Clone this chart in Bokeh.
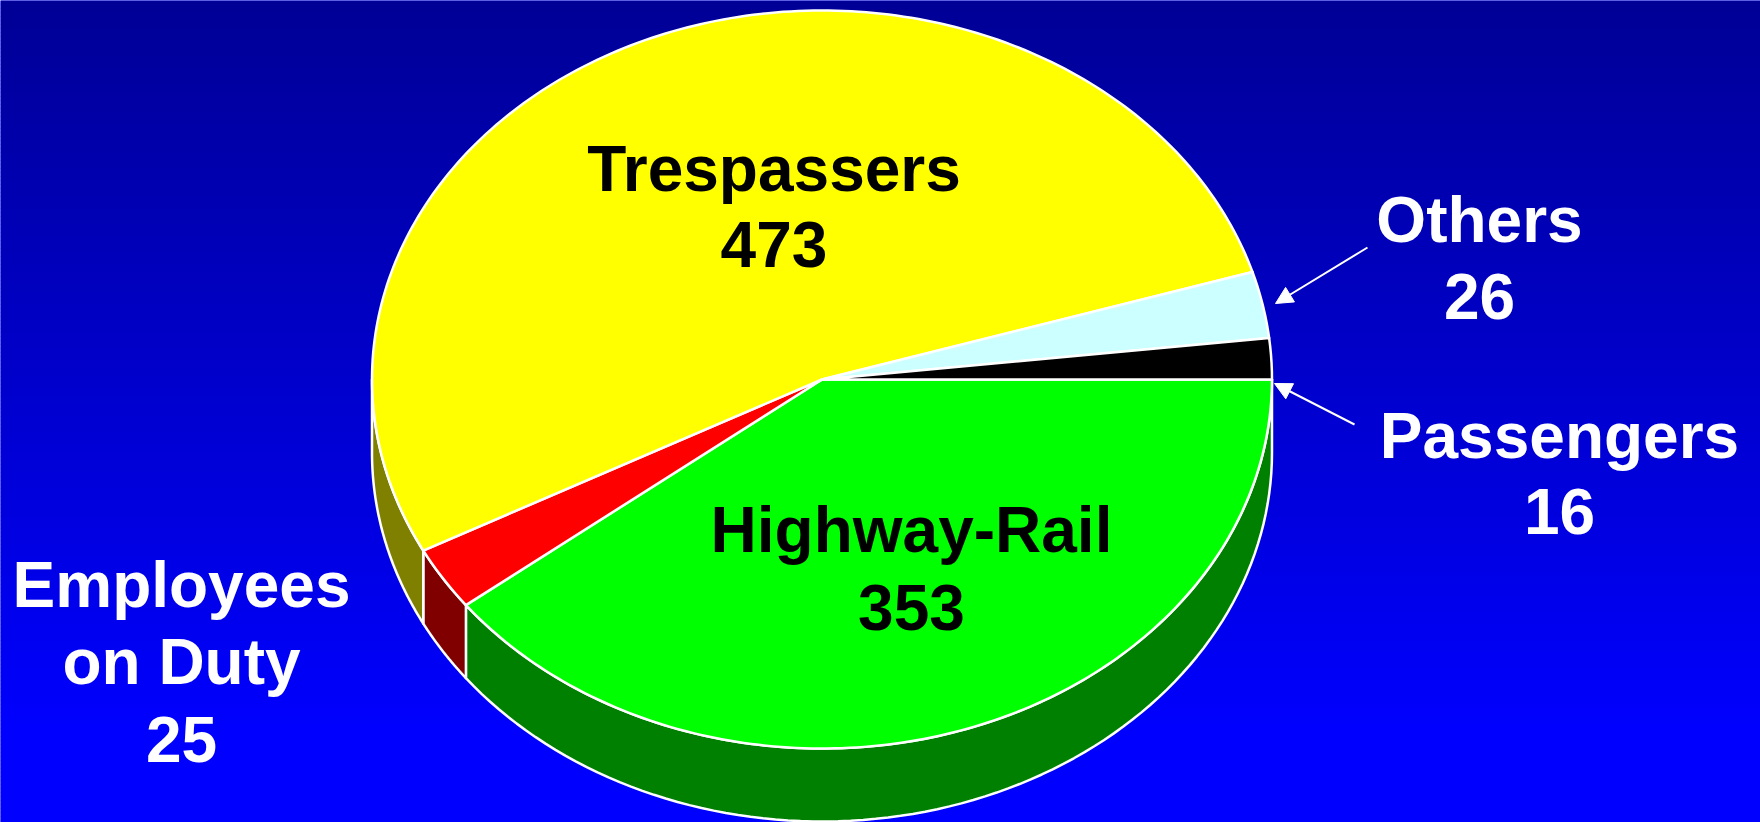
import numpy as np
from bokeh.plotting import figure
from bokeh.models import Range1d, ColumnDataSource, Arrow, NormalHead
from bokeh.core.properties import value
from bokeh.embed import file_html
from bokeh.resources import INLINE

# Data: clockwise from the east, as in the original pie
categories = ["Highway-Rail", "Employees on Duty", "Trespassers", "Others", "Passengers"]
values = [353, 25, 473, 26, 16]
top_colors = ["#00FF00", "#FF0000", "#FFFF00", "#CCFFFF", "#000000"]
side_colors = ["#008000", "#800000", "#808000", "#668080", "#000000"]

label_text = ["Trespassers", "473", "Highway-Rail", "353", "Others", "26",
              "Passengers", "16", "Employees", "on Duty", "25"]
label_x = [773.5, 773.5, 911, 911, 1479, 1479, 1559, 1559, 181, 181, 181]
label_y = [191, 267, 552, 630, 242, 319, 458, 534, 607, 684, 762]
label_color = ["#000000"] * 4 + ["#FFFFFF"] * 7

W, H = 1760, 822
CX, CY, RX, RY, DEPTH = 821.5, 379.0, 450.0, 369.0, 73.0
GRAD_TOP, GRAD_BOTTOM, GRAD_END = 150, 255, 730
TEXT_DY = -23

p = figure(width=W, height=H, x_range=Range1d(0, W), y_range=Range1d(H, 0),
           output_backend="svg", toolbar_location=None, min_border=0,
           outline_line_color=None, background_fill_color="#0000FF",
           border_fill_color="#0000FF")
p.axis.visible = False
p.grid.visible = False
p.styles = {"position": "absolute", "left": "0", "top": "0"}

# Background gradient
band_edges = np.arange(0, H + 4, 4)
shade = np.clip(GRAD_TOP + (GRAD_BOTTOM - GRAD_TOP) * (band_edges[:-1] + 2) / GRAD_END, 0, 255).astype(int)
p.quad(left=0, right=W, top=band_edges[:-1], bottom=band_edges[1:] + 0.5,
       fill_color=[f"#0000{s:02X}" for s in shade], line_color=None)

# Pie slices
fractions = np.array(values) / sum(values)
edges = np.concatenate([[0.0], np.cumsum(fractions)]) * 2 * np.pi

side_xs, side_ys, side_fill = [], [], []
for a0, a1, col in zip(edges[:-1], edges[1:], side_colors):
    if a0 >= np.pi:
        continue
    t = np.linspace(a0, min(a1, np.pi), 90)
    ex, ey = CX + RX * np.cos(t), CY + RY * np.sin(t)
    side_xs.append(np.concatenate([ex, ex[::-1]]))
    side_ys.append(np.concatenate([ey, ey[::-1] + DEPTH]))
    side_fill.append(col)
p.patches(xs=side_xs, ys=side_ys, fill_color=side_fill, line_color="#FFFFFF", line_width=2.5,
          line_join="round")

top_xs, top_ys = [], []
for a0, a1 in zip(edges[:-1], edges[1:]):
    t = np.linspace(a0, a1, max(3, int((a1 - a0) * 60)))
    top_xs.append(np.concatenate([[CX], CX + RX * np.cos(t)]))
    top_ys.append(np.concatenate([[CY], CY + RY * np.sin(t)]))
p.patches(xs=top_xs, ys=top_ys, fill_color=top_colors, line_color="#FFFFFF", line_width=2.5,
          line_join="round")

# Callout arrows
for x0, y0, x1, y1 in [(1367, 247, 1275, 303), (1354, 424, 1274, 383)]:
    p.add_layout(Arrow(x_start=x0, y_start=y0, x_end=x1, y_end=y1, line_color="#FFFFFF", line_width=2,
                       end=NormalHead(size=17, fill_color="#FFFFFF", line_color="#FFFFFF", line_width=1)))

# Labels
src = ColumnDataSource(dict(x=label_x, y=[v + TEXT_DY for v in label_y], text=label_text, color=label_color))
p.text(x="x", y="y", text="text", source=src, text_color="color",
       text_font=value("Liberation Sans"), text_font_style="bold", text_font_size="64px",
       text_align="center", text_baseline="alphabetic")

open("out.html", "w").write(file_html(p, INLINE))
